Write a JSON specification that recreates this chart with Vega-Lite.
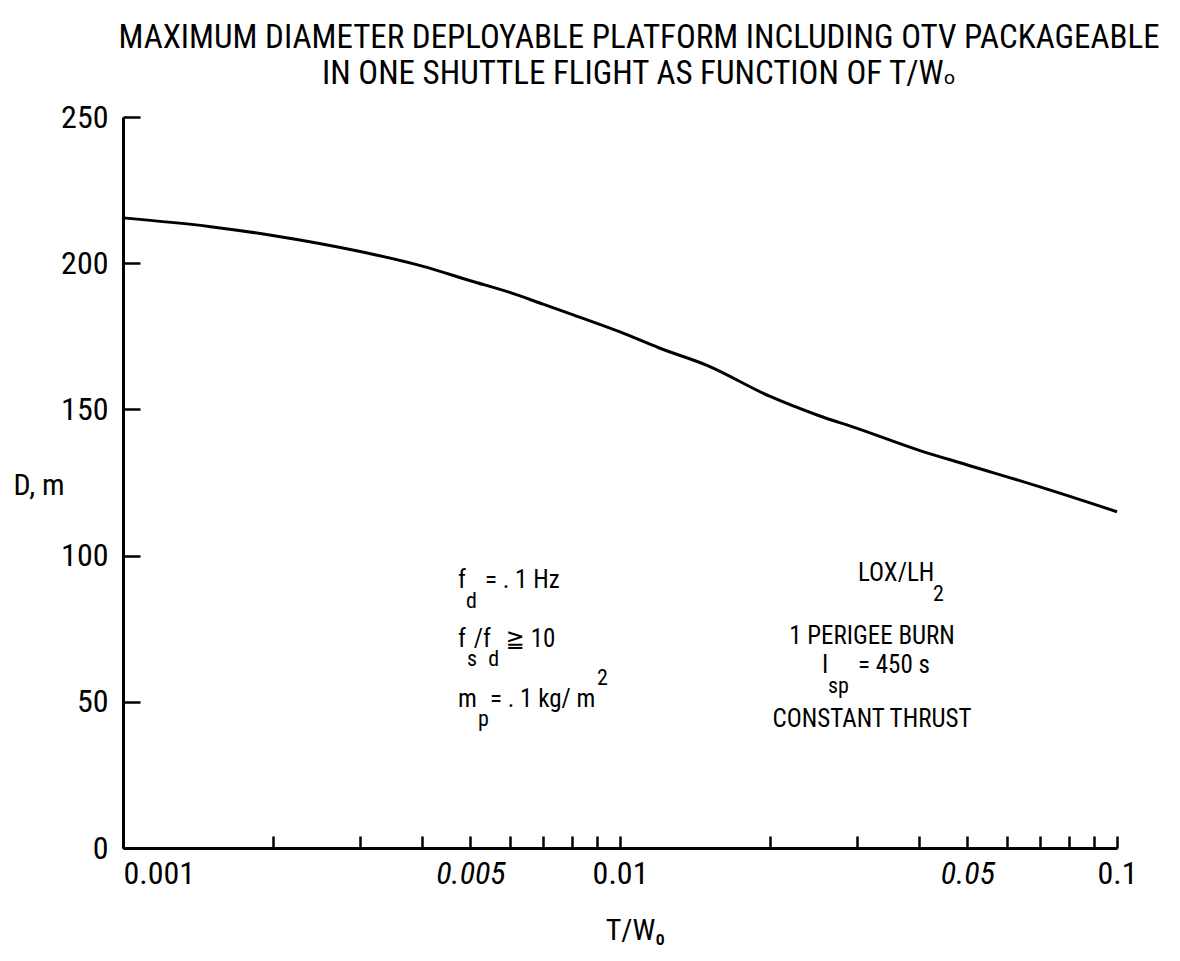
{
  "$schema": "https://vega.github.io/schema/vega-lite/v6.json",
  "width": 994,
  "height": 731,
  "autosize": {"type": "none"},
  "padding": {"left": 123, "top": 117, "right": 63, "bottom": 113},
  "background": "white",
  "config": {
    "font": "Liberation Sans Narrow, Roboto Condensed, Noto Sans Condensed, DejaVu Sans Condensed, sans-serif",
    "view": {"stroke": null},
    "axis": {"grid": false, "domainColor": "black", "domainWidth": 3, "tickColor": "black", "tickWidth": 2.5, "labelColor": "black", "titleColor": "black", "labelFont": "Liberation Sans Narrow, Roboto Condensed, Noto Sans Condensed, DejaVu Sans Condensed, sans-serif", "titleFont": "Liberation Sans Narrow, Roboto Condensed, Noto Sans Condensed, DejaVu Sans Condensed, sans-serif"}
  },
  "title": {
    "text": ["MAXIMUM DIAMETER DEPLOYABLE PLATFORM INCLUDING OTV PACKAGEABLE", "IN ONE SHUTTLE FLIGHT AS FUNCTION OF T/Wₒ"],
    "fontSize": 33,
    "fontWeight": "normal",
    "color": "black",
    "anchor": "middle",
    "dx": 19,
    "offset": 10,
    "lineHeight": 36
  },
  "datasets": {
    "curve": [
      {"tw": 0.001, "d": 215.5},
      {"tw": 0.0015, "d": 212.5},
      {"tw": 0.002, "d": 209.5},
      {"tw": 0.003, "d": 204},
      {"tw": 0.004, "d": 199},
      {"tw": 0.005, "d": 194},
      {"tw": 0.006, "d": 190},
      {"tw": 0.007, "d": 186},
      {"tw": 0.008, "d": 182.5},
      {"tw": 0.01, "d": 176.5},
      {"tw": 0.012, "d": 171},
      {"tw": 0.015, "d": 165},
      {"tw": 0.02, "d": 154.5},
      {"tw": 0.025, "d": 148},
      {"tw": 0.03, "d": 143.5},
      {"tw": 0.04, "d": 136},
      {"tw": 0.05, "d": 131},
      {"tw": 0.07, "d": 123.5},
      {"tw": 0.1, "d": 115}
    ],
    "notes": [
      {"tw": 0.004721, "d": 91.5, "t": "f"},
      {"tw": 0.005352, "d": 91.5, "t": "= . 1 Hz"},
      {"tw": 0.004721, "d": 71.5, "t": "f"},
      {"tw": 0.005078, "d": 71.5, "t": "/f"},
      {"tw": 0.005898, "d": 71.5, "t": "≧ 10"},
      {"tw": 0.004721, "d": 51.0, "t": "m"},
      {"tw": 0.005476, "d": 51.0, "t": "= . 1 kg/ m"},
      {"tw": 0.03012, "d": 94.0, "t": "LOX/LH"},
      {"tw": 0.02549, "d": 62.5, "t": "I"},
      {"tw": 0.03012, "d": 62.5, "t": "= 450 s"}
    ],
    "centered": [
      {"tw": 0.03214, "d": 72.5, "t": "1 PERIGEE BURN"},
      {"tw": 0.03214, "d": 44.0, "t": "CONSTANT THRUST"}
    ],
    "subs": [
      {"tw": 0.004898, "d": 84.5, "t": "d"},
      {"tw": 0.004920, "d": 64.5, "t": "s"},
      {"tw": 0.005432, "d": 64.5, "t": "d"},
      {"tw": 0.00518, "d": 44.0, "t": "p"},
      {"tw": 0.008989, "d": 58.0, "t": "2"},
      {"tw": 0.04263, "d": 87.0, "t": "2"},
      {"tw": 0.02621, "d": 55.5, "t": "sp"}
    ]
  },
  "layer": [
    {
      "data": {"name": "curve"},
      "mark": {"type": "line", "color": "black", "strokeWidth": 3, "interpolate": "monotone"},
      "encoding": {
        "x": {
          "field": "tw", "type": "quantitative",
          "scale": {"type": "log", "domain": [0.001, 0.1], "nice": false},
          "axis": {
            "title": "T/W₀",
            "titleFontSize": 30,
            "titleFontWeight": "normal",
            "titleX": 512,
            "titleY": 82,
            "titleBaseline": "middle",
            "values": [0.001, 0.002, 0.003, 0.004, 0.005, 0.006, 0.007, 0.008, 0.009, 0.01, 0.02, 0.03, 0.04, 0.05, 0.06, 0.07, 0.08, 0.09, 0.1],
            "labelExpr": "datum.value == 0.001 ? '0.001' : datum.value == 0.005 ? '0.005' : datum.value == 0.01 ? '0.01' : datum.value == 0.05 ? '0.05' : datum.value == 0.1 ? '0.1' : ''",
            "labelFontStyle": {"condition": {"test": "datum.value == 0.005 || datum.value == 0.05", "value": "italic"}, "value": "normal"},
            "labelAlign": {"condition": {"test": "datum.value == 0.001", "value": "left"}, "value": "center"},
            "labelFontSize": 32,
            "labelOverlap": false,
            "labelFlush": false,
            "tickSize": -12,
            "labelPadding": 22
          }
        },
        "y": {
          "field": "d", "type": "quantitative",
          "scale": {"domain": [0, 250], "nice": false, "zero": true},
          "axis": {
            "title": "D,  m",
            "titleAngle": 0,
            "titleFontSize": 30,
            "titleFontWeight": "normal",
            "titleAlign": "left",
            "titleBaseline": "middle",
            "titleX": -110,
            "titleY": 368,
            "values": [0, 50, 100, 150, 200, 250],
            "labelFontSize": 32,
            "tickSize": -17,
            "labelPadding": 32
          }
        }
      }
    },
    {
      "data": {"name": "notes"},
      "mark": {"type": "text", "align": "left", "baseline": "middle", "fontSize": 25, "color": "black"},
      "encoding": {
        "x": {"field": "tw", "type": "quantitative"},
        "y": {"field": "d", "type": "quantitative"},
        "text": {"field": "t"}
      }
    },
    {
      "data": {"name": "centered"},
      "mark": {"type": "text", "align": "center", "baseline": "middle", "fontSize": 25, "color": "black"},
      "encoding": {
        "x": {"field": "tw", "type": "quantitative"},
        "y": {"field": "d", "type": "quantitative"},
        "text": {"field": "t"}
      }
    },
    {
      "data": {"name": "subs"},
      "mark": {"type": "text", "align": "left", "baseline": "middle", "fontSize": 22, "color": "black"},
      "encoding": {
        "x": {"field": "tw", "type": "quantitative"},
        "y": {"field": "d", "type": "quantitative"},
        "text": {"field": "t"}
      }
    }
  ]
}
